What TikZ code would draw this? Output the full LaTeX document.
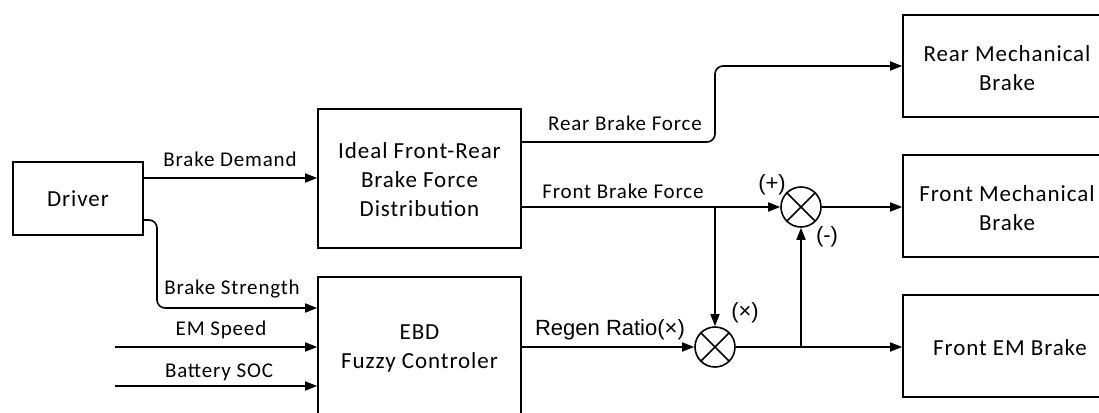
\documentclass[tikz,border=0pt]{standalone}
\usepackage{fontspec}
\setmainfont{Carlito}[LetterSpace=4.0]
\newfontfamily\arialf{Liberation Sans}
\usetikzlibrary{arrows.meta}
\begin{document}
\begin{tikzpicture}[x=1pt,y=-1pt,
  blk/.style={draw,line width=1.6pt,inner sep=0pt},
  btxt/.style={align=center,font=\fontsize{23}{29}\selectfont,inner sep=0pt},
  lbl/.style={font=\fontsize{21}{24}\selectfont,inner sep=0pt,anchor=base},
  alb/.style={font=\arialf\fontsize{22}{26}\selectfont,inner sep=0pt},
  wire/.style={line width=1.6pt},
  arr/.style={wire,-{Triangle[length=12pt,width=9pt]}},
  mult/.style={draw,circle,line width=1.6pt,minimum size=40pt,inner sep=0pt},
]
\useasboundingbox (0,0) rectangle (1099,412);
\clip (0,0) rectangle (1099,412);

% blocks
\node[blk,minimum width=130pt,minimum height=73pt] (driver) at (78,198.5) {};
\node[btxt] (driverT) at (78,199) {Driver};
\node[blk,minimum width=203pt,minimum height=139pt] (ideal) at (419.5,178.5) {};
\node[btxt] (idealT) at (419.5,180) {Ideal Front-Rear\\Brake Force\\Distribution};
\node[blk,minimum width=203pt,minimum height=140pt] (ebd) at (419.5,347) {};
\node[btxt] (ebdT) at (419.5,348) {EBD\\Fuzzy Controler};
\node[blk,minimum width=217pt,minimum height=102pt] (rear) at (1011.5,66) {};
\node[btxt] (rearT) at (1007,68) {Rear Mechanical\\Brake};
\node[blk,minimum width=217pt,minimum height=102pt] (fmech) at (1011.5,206) {};
\node[btxt] (fmechT) at (1007,208) {Front Mechanical\\Brake};
\node[blk,minimum width=217pt,minimum height=102pt] (fem) at (1011.5,346) {};
\node[btxt] (femT) at (1010,348) {Front EM Brake};

% multipliers
\node[mult] (top) at (801,207) {};
\node[mult] (low) at (715,347) {};
\draw[wire] (top.45) -- (top.225) (top.135) -- (top.315);
\draw[wire] (low.45) -- (low.225) (low.135) -- (low.315);

% free ends
\coordinate (ems) at (115,347);
\coordinate (bsoc) at (115,386);

% connectors
\draw[arr] (driver.east |- 0,178) -- (ideal.west |- 0,178);
\draw[arr,rounded corners=8pt] (driver.east |- 0,220) -| (157,308) -- (ebd.west |- 0,308);
\draw[arr] (ems) -- (ebd.west |- ems);
\draw[arr] (bsoc) -- (ebd.west |- bsoc);
\draw[arr,rounded corners=8pt] (ideal.east |- 0,142) -| (715,66) -- (rear.west);
\draw[arr] (ideal.east |- top.west) -- (top.west);
\draw[arr] (top.east) -- (fmech.west |- top.east);
\draw[arr] (ebd.east |- low.west) -- (low.west);
\draw[arr] (low.east) -- (fem.west |- low.east);
\draw[arr] (low.north |- top.west) -- (low.north);
\draw[arr] (top.south |- low.east) -- (top.south);

% labels
\node[lbl] (lbd) at (230,166.5) {Brake Demand};
\node[lbl] (lbs) at (232,294) {Brake Strength};
\node[lbl] (lem) at (221,335) {EM Speed};
\node[lbl] (lsoc) at (219,377) {Battery SOC};
\node[lbl] (lrbf) at (625,130) {Rear Brake Force};
\node[lbl] (lfbf) at (623,198) {Front Brake Force};
\node[alb,anchor=base] (lrr) at (610,335) {Regen Ratio(×)};
\node[alb] (lp) at (772,185) {(+)};
\node[alb] (lm) at (827,237) {(-)};
\node[alb] (lx) at (745,313) {(×)};
\end{tikzpicture}
\end{document}
